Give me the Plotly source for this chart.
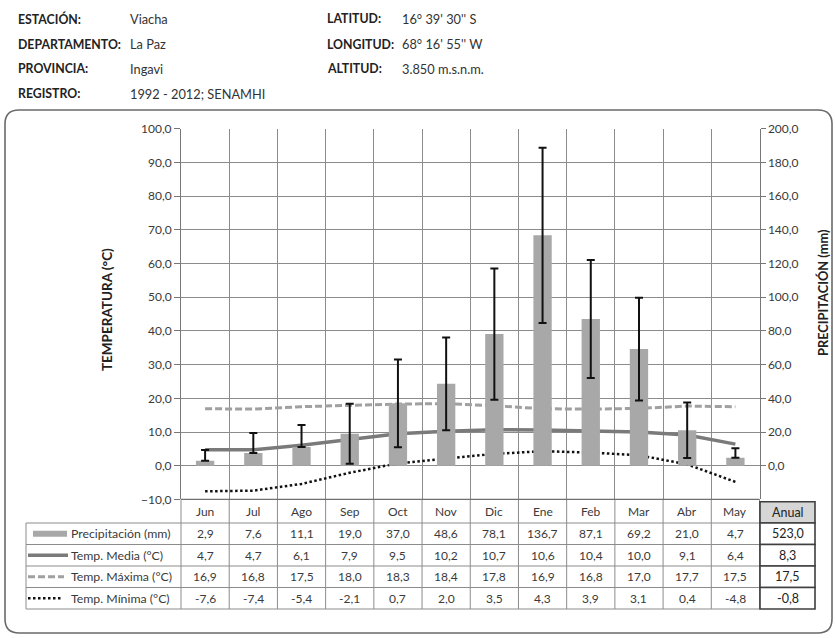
import plotly.graph_objects as go

# ---- data -------------------------------------------------------------
months = ["Jun", "Jul", "Ago", "Sep", "Oct", "Nov", "Dic", "Ene", "Feb", "Mar", "Abr", "May"]
precip = [2.9, 7.6, 11.1, 19.0, 37.0, 48.6, 78.1, 136.7, 87.1, 69.2, 21.0, 4.7]
precip_err_plus = [6.4, 11.8, 13.1, 17.8, 26.0, 27.5, 39.0, 52.0, 35.0, 30.5, 16.5, 5.6]
precip_err_minus = [0.0, 0.0, 0.0, 17.8, 26.0, 27.5, 39.0, 52.0, 35.0, 30.5, 16.5, 0.0]
t_media = [4.7, 4.7, 6.1, 7.9, 9.5, 10.2, 10.7, 10.6, 10.4, 10.0, 9.1, 6.4]
t_max = [16.9, 16.8, 17.5, 18.0, 18.3, 18.4, 17.8, 16.9, 16.8, 17.0, 17.7, 17.5]
t_min = [-7.6, -7.4, -5.4, -2.1, 0.7, 2.0, 3.5, 4.3, 3.9, 3.1, 0.4, -4.8]
annual = ["523,0", "8,3", "17,5", "-0,8"]
row_labels = ["Precipitación (mm)", "Temp. Media (°C)", "Temp. Máxima (°C)", "Temp. Mínima (°C)"]
temp_ticks = list(range(-10, 101, 10))
precip_ticks = list(range(0, 201, 20))

header_left = [("ESTACIÓN:", "Viacha"), ("DEPARTAMENTO:", "La Paz"),
               ("PROVINCIA:", "Ingavi"), ("REGISTRO:", "1992 - 2012; SENAMHI")]
header_right = [("LATITUD:", "16° 39' 30'' S"), ("LONGITUD:", "68° 16' 55'' W"),
                ("ALTITUD:", "3.850 m.s.n.m.")]

# ---- geometry helpers (pixel -> paper) --------------------------------
W, H = 835, 638
def px(x):
    return x / W
def py(y):
    return 1 - y / H

PLOT_L, PLOT_R = 181, 759.5
PLOT_T, PLOT_B = 128.7, 499.4
LABEL_L = 26
ANUAL_L, ANUAL_R = 760, 815
ROW_Y = [PLOT_B, 523, 544.5, 566, 587.5, 609]

FONT = "Lato"
TXT = "#3a3a3a"
GRID = "#8c8c8c"
MAX_DASH = "7px,3px"
MIN_DOT = "2.5px,2.5px"

xs = list(range(len(months)))

fig = go.Figure()

fig.add_trace(go.Bar(
    x=xs, y=precip, yaxis="y2", width=0.38,
    marker=dict(color="#a8a8a8", line=dict(width=0)),
    error_y=dict(type="data", symmetric=False, array=precip_err_plus,
                 arrayminus=precip_err_minus, color="#111111", thickness=2, width=4),
    name="Precipitación (mm)",
))
fig.add_trace(go.Scatter(x=xs, y=t_max, mode="lines", name="Temp. Máxima",
                         line=dict(color="#a0a0a0", width=3, dash=MAX_DASH)))
fig.add_trace(go.Scatter(x=xs, y=t_media, mode="lines", name="Temp. Media",
                         line=dict(color="#7a7a7a", width=3.5)))
fig.add_trace(go.Scatter(x=xs, y=t_min, mode="lines", name="Temp. Mínima",
                         line=dict(color="#111111", width=2.5, dash=MIN_DOT)))

shapes = []
annotations = []


def note(x, y, text, xref="paper", xanchor="center", size=12, color=TXT, angle=0):
    annotations.append(dict(xref=xref, yref="paper", x=x, y=y, text=text,
                            xanchor=xanchor, yanchor="middle", textangle=angle,
                            showarrow=False, font=dict(family=FONT, size=size, color=color)))


# rounded panel frame
x0, x1, y0, y1 = px(5), px(832), py(633), py(110)
rx, ry = 14 / W, 14 / H
path = (f"M {x0+rx},{y1} L {x1-rx},{y1} Q {x1},{y1} {x1},{y1-ry} "
        f"L {x1},{y0+ry} Q {x1},{y0} {x1-rx},{y0} L {x0+rx},{y0} "
        f"Q {x0},{y0} {x0},{y0+ry} L {x0},{y1-ry} Q {x0},{y1} {x0+rx},{y1} Z")
shapes.append(dict(type="path", path=path, xref="paper", yref="paper",
                   line=dict(color="#6a6a6a", width=1.6), layer="below"))

# table grid: month columns follow the x axis domain
label_dom = (LABEL_L - PLOT_L) / (PLOT_R - PLOT_L)
n = len(months)
for k in range(n + 1):
    shapes.append(dict(type="line", xref="x domain", yref="paper",
                       x0=k / n, x1=k / n, y0=py(ROW_Y[0]), y1=py(ROW_Y[-1]),
                       line=dict(color=GRID, width=1)))
shapes.append(dict(type="line", xref="x domain", yref="paper",
                   x0=label_dom, x1=label_dom, y0=py(ROW_Y[1]), y1=py(ROW_Y[-1]),
                   line=dict(color=GRID, width=1)))
for j, yy in enumerate(ROW_Y):
    shapes.append(dict(type="line", xref="x domain", yref="paper",
                       x0=0 if j == 0 else label_dom, x1=1, y0=py(yy), y1=py(yy),
                       line=dict(color="#6f6f6f" if j == 0 else GRID, width=1.3 if j == 0 else 1)))

# annual column boxes
anual_rows = [(501.7, ROW_Y[1])] + [(ROW_Y[i], ROW_Y[i + 1]) for i in range(1, 5)]
for i, (ya, yb) in enumerate(anual_rows):
    shapes.append(dict(type="rect", xref="paper", yref="paper",
                       x0=px(ANUAL_L), x1=px(ANUAL_R), y0=py(yb), y1=py(ya),
                       fillcolor="#d6d6d6" if i == 0 else "white",
                       line=dict(color="#3f3f3f", width=1.6)))
    note(px((ANUAL_L + ANUAL_R) / 2), py((ya + yb) / 2),
         "Anual" if i == 0 else annual[i - 1], size=12.5, color="#222222")

# month headers and values
rows = [precip, t_media, t_max, t_min]
for i, m in enumerate(months):
    note(i, py((ROW_Y[0] + ROW_Y[1]) / 2), m, xref="x")
    for r, vals in enumerate(rows):
        note(i, py((ROW_Y[r + 1] + ROW_Y[r + 2]) / 2),
             f"{vals[i]:.1f}".replace(".", ","), xref="x")

# row labels with legend keys
for r, lab in enumerate(row_labels):
    yc = (ROW_Y[r + 1] + ROW_Y[r + 2]) / 2
    note(px(69), py(yc), lab, xanchor="left", size=12.3)
    if r == 0:
        shapes.append(dict(type="rect", xref="paper", yref="paper", x0=px(33), x1=px(67),
                           y0=py(yc + 3), y1=py(yc - 3), fillcolor="#a8a8a8", line=dict(width=0)))
    elif r == 1:
        shapes.append(dict(type="line", xref="paper", yref="paper", x0=px(28), x1=px(68),
                           y0=py(yc), y1=py(yc), line=dict(color="#7a7a7a", width=3.5)))
    elif r == 2:
        shapes.append(dict(type="line", xref="paper", yref="paper", x0=px(28), x1=px(64),
                           y0=py(yc), y1=py(yc), line=dict(color="#a0a0a0", width=3, dash=MAX_DASH)))
    else:
        shapes.append(dict(type="line", xref="paper", yref="paper", x0=px(28), x1=px(63),
                           y0=py(yc), y1=py(yc), line=dict(color="#111111", width=2.5, dash=MIN_DOT)))

# station header
hy = [18.5, 44, 69, 93.5]
for i, (k, v) in enumerate(header_left):
    note(px(16), py(hy[i]), f"<b>{k}</b>", xanchor="left", size=12.3, color="#222222")
    note(px(128), py(hy[i]), v, xanchor="left", size=12.8, color="#333333")
for i, (k, v) in enumerate(header_right):
    note(px(325), py(hy[i]), f"<b>{k}</b>", xanchor="left", size=12.3, color="#222222")
    note(px(400), py(hy[i]), v, xanchor="left", size=12.8, color="#333333")

# axis titles
note(px(107), py(310), "<b>TEMPERATURA (°C)</b>", size=13.5, color="#222222", angle=-90)
note(px(823), py(293), "<b>PRECIPITACIÓN (mm)</b>", size=12.8, color="#222222", angle=-90)

fig.update_layout(
    width=W, height=H, margin=dict(l=0, r=0, t=0, b=0, pad=0, autoexpand=False),
    paper_bgcolor="white", plot_bgcolor="white",
    separators=",.", showlegend=False, barmode="overlay",
    font=dict(family=FONT, size=12, color=TXT),
    xaxis=dict(domain=[px(PLOT_L), px(PLOT_R)], range=[-0.5, n - 0.5],
               tickvals=[k - 0.5 for k in range(n + 1)], showticklabels=False,
               showgrid=True, gridcolor=GRID, gridwidth=1, zeroline=False,
               ticks="", showline=False, automargin=False),
    yaxis=dict(domain=[py(PLOT_B), py(PLOT_T)], range=[-10, 100], tickvals=temp_ticks,
               tickformat=".1f", ticks="outside", ticklen=6, tickcolor="#777777",
               showgrid=True, gridcolor=GRID, gridwidth=1, zeroline=False,
               showline=True, linecolor="#777777", automargin=False,
               tickfont=dict(family=FONT, size=12, color=TXT)),
    yaxis2=dict(overlaying="y", side="right", range=[-20, 200], tickvals=precip_ticks,
                tickformat=".1f", ticks="outside", ticklen=5, tickcolor="#777777",
                showgrid=False, zeroline=False, showline=True, linecolor="#777777",
                anchor="x", automargin=False,
                tickfont=dict(family=FONT, size=12, color=TXT)),
    shapes=shapes, annotations=annotations,
)

fig.write_html("out.html")
